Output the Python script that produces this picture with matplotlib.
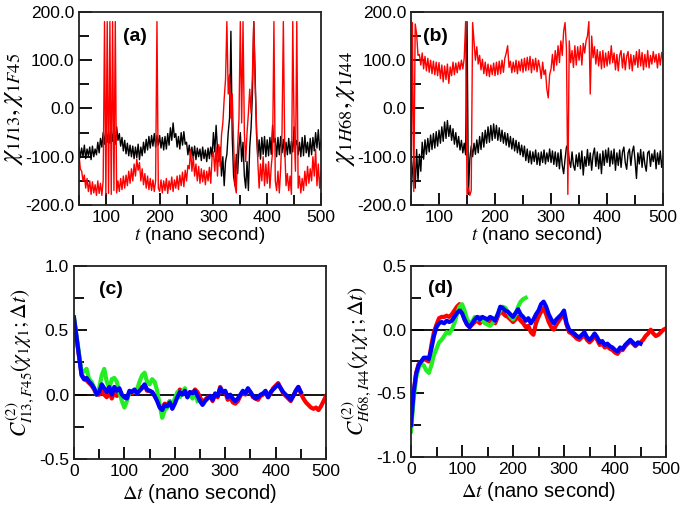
import numpy as np
import matplotlib
matplotlib.use("Agg")
import matplotlib.pyplot as plt
from matplotlib.ticker import MultipleLocator, FormatStrFormatter

plt.rcParams['font.family'] = ['Liberation Sans', 'DejaVu Sans']
plt.rcParams['mathtext.fontset'] = 'stix'

# ---- panel (a): chi_1 of I13 (black) and F45 (red), sampled every 2.5 ns from 50 to 500
a_black = [
    -78, -102, -82, -100, -76, -104, -84, -98, -80, -106, -78, -100, -84, -96, -70, -92, -62, -80, -50, -74,
    -42, -70, -48, -72, -40, -68, -46, -74, -38, -66, -52, -78, -60, -88, -66, -94, -72, -98, -76, -100,
    -78, -104, -80, -102, -74, -106, -80, -98, -70, -92, -64, -86, -58, -82, -56, -78, -52, -80, -56, -76,
    -56, -82, -60, -86, -58, -84, -52, -76, -40, -66, -30, -60, -52, -80, -58, -84, -50, -76, -48, -74,
    -70, -96, -76, -100, -80, -104, -78, -106, -82, -100, -84, -108, -80, -104, -86, -110, -82, -104, -80, -100,
    -50, -90, -35, -85, -110, -80, -140, -100, -160, -110, -95, -50, -20, 160, -60, -140, -160, -95, -135, -80,
    -50, -110, -70, -140, -165, -110, -170, -80, -40, 30, 180, 70, -50, -100, -65, -105, -60, -95, -58, -100,
    -65, -98, -60, -95, -35, -70, -62, -100, -60, -96, -58, -92, -64, -100, -70, -96, -62, -94, -68, -90,
    -38, -76, -66, -96, -70, -100, -60, -98, -56, -92, -70, -100, -62, -96, -60, -88, -50, -82, -44, -86,
    -66,
]
a_red = [
    -95, -125, -130, -150, -138, -165, -145, -172, -150, -178, -152, -175, -158, -180, -150, -176, -155, -180, -150, 180,
    -178, 180, -176, 180, -178, 180, -170, 180, -175, -150, -172, -145, -168, -140, -165, -138, -160, -130, -155, -125,
    -150, -115, -140, -105, -128, -112, -150, -125, -158, -135, -165, -140, -168, -145, -170, -148, -172, -150, 180, -165,
    -172, -148, -175, -150, -170, -145, -176, -150, -168, -142, -172, -148, -165, -140, -168, -138, -160, -132, -162, -128,
    -150, -118, -125, -85, -130, -100, -140, -115, -150, -120, -155, -125, -152, -128, -158, -130, -150, -122, -155, -100,
    -90, -130, -80, -140, -75, -120, -55, -30, 20, 60, 180, 30, 70, -20, 30, -70, -160, -175, -80, -20,
    180, -30, 180, -50, -110, -50, -10, 40, -10, 70, 180, 50, -30, -110, -165, -115, -150, -100, -160, -115,
    -155, -110, -165, -120, -90, 180, -150, -170, -130, -175, -125, -50, 180, -80, -160, -135, -170, -140, -178, 180,
    -40, -130, 180, -165, -140, -175, -145, -170, -130, -160, -120, -155, -125, -150, -100, -140, -85, -160, -115, -165,
    -130,
]

# ---- panel (b): chi_1 of H68 (black) and I44 (red)
b_black = [
    -178, -130, -100, -165, -85, -150, -95, -130, -70, -105, -65, -95, -62, -90, -55, -85, -52, -82, -48, -78,
    -45, -72, -38, -68, -28, -62, -25, -58, -35, -66, -42, -74, -50, -80, -58, -86, -66, -92, -72, -96,
    180, -178, -105, -78, -100, -72, -95, -65, -92, -58, -85, -50, -80, -45, -72, -38, -70, -35, -66, -32,
    -62, -35, -66, -40, -68, -45, -72, -50, -76, -52, -80, -58, -84, -62, -88, -66, -92, -70, -96, -76,
    -100, -78, -108, -84, -112, -88, -115, -90, -110, -86, -116, -92, -118, -90, -112, -86, -115, -92, -110, -84,
    -112, -88, -116, -90, -120, -92, -125, -85, -118, -135, -105, -80, -75, -108, -122, -90, -118, -128, -96, -120,
    -92, -125, -88, -138, -100, -120, -85, -118, -92, -128, -96, -82, -120, -90, -125, -94, -135, -88, -118, -86,
    -112, -82, -120, -88, -115, -84, -128, -92, -118, -86, -122, -90, -80, -112, -126, -92, -84, -118, -90, -78,
    -108, -145, -92, -115, -85, -122, -90, -116, -130, -92, -88, -120, -94, -110, -86, -125, -92, -116, -88, -122,
    -98,
]
b_red = [
    -178, 178, -172, 175, 155, 110, 112, 90, 115, 82, 108, 78, 104, 75, 100, 72, 98, 70, 96, 68,
    95, 62, 90, 55, 88, 60, 92, 52, 86, 68, 96, 70, 94, 74, 96, 80, 100, 82, 104, 180,
    -178, -165, -180, -170, 178, 140, 100, 128, 92, 110, 80, 102, 72, 96, 68, 92, 66, 90, 70, 94,
    68, 96, 70, 98, 72, 100, 75, 104, 115, 130, 85, 98, 74, 96, 76, 100, 72, 98, 78, 102,
    75, 104, 78, 106, 80, 108, 74, 102, 80, 104, 76, 100, 86, 62, 96, 70, 80, 40, 22, 70,
    82, 112, 78, 120, 90, 130, 95, 140, 110, 160, 178, 125, -178, 140, 95, 120, 85, 130, 90, 128,
    100, 130, 90, 135, 115, 140, 150, 180, 30, 150, 105, 128, 92, 122, 88, 118, 82, 120, 85, 115,
    88, 118, 92, 130, 95, 115, 80, 112, 78, 110, 120, 84, 114, 80, 108, 118, 82, 112, 78, 110,
    90, 118, 85, 122, 88, 116, 80, 112, 86, 120, 84, 110, 92, 118, 96, 112, 84, 114, 90, 116,
    98,
]

# ---- panel (c): C2 I13,F45, sampled every 5 ns from 0
c_red = [
    0.58, 0.44, 0.30, 0.16, 0.12, 0.11, 0.09, 0.07, 0.04, 0.00,
    0.00, 0.04, 0.00, -0.02, 0.02, -0.03, 0.02, -0.01, 0.01, -0.02,
    -0.02, -0.03, 0.02, 0.01, 0.03, 0.01, 0.05, 0.06, 0.07, 0.03,
    0.03, 0.02, -0.01, -0.04, -0.09, -0.10, -0.07, -0.08, -0.05, -0.09,
    -0.06, 0.00, 0.04, 0.01, 0.03, -0.02, 0.02, 0.01, 0.04, 0.02,
    -0.02, -0.06, -0.04, -0.02, -0.01, -0.05, 0.00, -0.02, 0.06, 0.02,
    0.02, -0.04, -0.02, -0.06, -0.07, -0.05, -0.01, 0.02, 0.00, 0.04,
    0.02, -0.02, -0.03, -0.04, -0.01, 0.00, 0.02, -0.02, 0.01, 0.05,
    0.07, 0.09, 0.05, 0.01, -0.01, -0.03, -0.05, -0.01, 0.03, 0.06,
    0.01, -0.03, -0.06, -0.08, -0.10, -0.11, -0.10, -0.12, -0.09, -0.05,
    -0.01,
]
c_green = [
    0.60, 0.46, 0.32, 0.17, 0.18, 0.20, 0.12, 0.10, 0.05, 0.00,
    0.05, 0.15, 0.20, 0.10, 0.05, 0.12, 0.13, 0.10, 0.02, -0.05,
    -0.10, -0.05, 0.02, 0.03, 0.02, 0.04, 0.10, 0.15, 0.17, 0.10,
    0.08, 0.12, 0.10, 0.03, -0.08, -0.18, -0.12, -0.10, -0.05, -0.08,
    -0.03, 0.02, -0.02, 0.02, 0.05, -0.02, 0.01, -0.03, 0.02, -0.05,
]
c_blue = [
    0.60, 0.45, 0.30, 0.15, 0.12, 0.13, 0.10, 0.08, 0.05, 0.00,
    0.02, 0.08, 0.05, 0.02, 0.06, 0.00, 0.06, 0.03, 0.05, 0.00,
    -0.02, -0.03, 0.03, 0.02, 0.04, 0.01, 0.03, 0.05, 0.08, 0.04,
    0.03, 0.02, -0.01, -0.05, -0.10, -0.12, -0.08, -0.09, -0.06, -0.11,
    -0.07, -0.02, 0.02, 0.00, 0.03, -0.02, 0.02, 0.01, 0.03, -0.01,
    -0.05, -0.08, -0.05, -0.03, -0.01, -0.04, 0.01, -0.01, 0.05, 0.02,
    0.03, -0.02, 0.00, -0.03, -0.05, -0.03, 0.00, 0.03, 0.01, 0.05,
    0.02, -0.01, -0.03, -0.02, 0.00, 0.01, 0.03, -0.02, 0.02, 0.04,
    0.06, 0.08, 0.05, 0.02, 0.00, -0.02, -0.04, -0.01, 0.03, 0.06,
    0.02,
]

# ---- panel (d): C2 H68,I44
d_red = [
    -0.75, -0.50, -0.34, -0.27, -0.25, -0.23, -0.24, -0.25, -0.12, -0.02,
    0.04, 0.09, 0.10, 0.10, 0.11, 0.10, 0.12, 0.15, 0.18, 0.20,
    0.14, 0.08, 0.04, 0.02, 0.04, 0.06, 0.07, 0.05, 0.07, 0.06,
    0.05, 0.07, 0.06, 0.05, 0.10, 0.15, 0.13, 0.11, 0.10, 0.08,
    0.06, 0.08, 0.10, 0.07, 0.05, 0.02, 0.03, -0.02, -0.04, 0.05,
    0.10, 0.14, 0.17, 0.12, 0.06, 0.02, 0.00, 0.04, 0.07, 0.10,
    0.12, 0.04, -0.02, -0.03, -0.05, -0.07, -0.08, -0.06, -0.04, -0.08,
    -0.10, -0.08, -0.05, -0.08, -0.12, -0.11, -0.14, -0.13, -0.15, -0.16,
    -0.18, -0.19, -0.16, -0.16, -0.13, -0.11, -0.09, -0.11, -0.13, -0.11,
    -0.10, -0.08, -0.05, -0.03, 0.00, -0.03, -0.05, -0.04, -0.02, 0.00,
    0.01,
]
d_green = [
    -0.80, -0.55, -0.38, -0.30, -0.27, -0.28, -0.32, -0.34, -0.28, -0.20,
    -0.15, -0.10, -0.08, -0.05, -0.02, -0.03, 0.00, 0.05, 0.12, 0.18,
    0.20, 0.15, 0.08, 0.05, 0.06, 0.10, 0.08, 0.10, 0.07, 0.05,
    0.04, 0.03, 0.05, 0.08, 0.12, 0.15, 0.18, 0.17, 0.14, 0.10,
    0.08, 0.12, 0.18, 0.22, 0.24, 0.25,
]
d_blue = [
    -0.75, -0.50, -0.35, -0.28, -0.25, -0.22, -0.22, -0.23, -0.15, -0.05,
    0.02, 0.05, 0.06, 0.05, 0.07, 0.06, 0.07, 0.10, 0.13, 0.15,
    0.13, 0.08, 0.04, 0.02, 0.05, 0.08, 0.10, 0.08, 0.10, 0.09,
    0.08, 0.10, 0.09, 0.07, 0.12, 0.18, 0.17, 0.15, 0.14, 0.12,
    0.10, 0.13, 0.16, 0.12, 0.10, 0.07, 0.09, 0.05, 0.08, 0.12,
    0.15, 0.20, 0.22, 0.18, 0.12, 0.08, 0.05, 0.08, 0.10, 0.12,
    0.15, 0.05, 0.00, -0.02, -0.03, -0.05, -0.06, -0.04, -0.02, -0.06,
    -0.08, -0.06, -0.03, -0.06, -0.10, -0.09, -0.12, -0.11, -0.13, -0.14,
    -0.16, -0.17, -0.14, -0.15, -0.12, -0.10, -0.08, -0.10, -0.12, -0.10,
    -0.11,
]


def t_axis(vals, start, step):
    return start + step * np.arange(len(vals))


def style_axis(ax, xmajor, ymajor, yfmt):
    ax.xaxis.set_major_locator(MultipleLocator(xmajor))
    ax.xaxis.set_minor_locator(MultipleLocator(xmajor / 2))
    ax.yaxis.set_major_locator(MultipleLocator(ymajor))
    ax.yaxis.set_minor_locator(MultipleLocator(ymajor / 2))
    ax.yaxis.set_major_formatter(FormatStrFormatter(yfmt))
    ax.tick_params(which='both', direction='in', top=False, right=False,
                   labelsize=12.5, width=1.3)
    ax.tick_params(which='major', length=9)
    ax.tick_params(which='minor', length=7)
    for sp in ax.spines.values():
        sp.set_linewidth(1.3)
        sp.set_color('#222222')


fig = plt.figure(figsize=(6.85, 5.19), dpi=100)
ax_a = fig.add_axes([0.1153, 0.605, 0.3533, 0.372])
ax_b = fig.add_axes([0.600, 0.605, 0.368, 0.372])
ax_c = fig.add_axes([0.108, 0.1156, 0.368, 0.372])
ax_d = fig.add_axes([0.600, 0.1195, 0.3723, 0.368])

# (a)
ax_a.plot(t_axis(a_black, 50, 2.5), a_black, color='black', lw=1.0)
ax_a.plot(t_axis(a_red, 50, 2.5), a_red, color='#ff0000', lw=1.0)
ax_a.set_xlim(50, 500)
ax_a.set_ylim(-200, 200)
style_axis(ax_a, 100, 100, '%.1f')
ax_a.set_xlabel(r'$t$ (nano second)', fontsize=13.5, labelpad=0)
ax_a.set_ylabel(r'$\chi_{1I13},\chi_{1F45}$', fontsize=19, labelpad=0)
ax_a.text(0.18, 0.875, '(a)', transform=ax_a.transAxes, fontsize=14,
          fontweight='bold', va='center')

# (b)
ax_b.plot(t_axis(b_black, 50, 2.5), b_black, color='black', lw=1.0)
ax_b.plot(t_axis(b_red, 50, 2.5), b_red, color='#ff0000', lw=1.0)
ax_b.set_xlim(50, 500)
ax_b.set_ylim(-200, 200)
style_axis(ax_b, 100, 100, '%.1f')
ax_b.set_xlabel(r'$t$ (nano second)', fontsize=13.5, labelpad=0)
ax_b.set_ylabel(r'$\chi_{1H68},\chi_{1I44}$', fontsize=19, labelpad=0)
ax_b.text(0.048, 0.875, '(b)', transform=ax_b.transAxes, fontsize=14,
          fontweight='bold', va='center')

# (c)
ax_c.axhline(0, color='black', lw=1.3, zorder=1)
ax_c.plot(t_axis(c_red, 0, 5), c_red, color='#ff0000', lw=3)
ax_c.plot(t_axis(c_green, 0, 5), c_green, color='#22ee22', lw=3)
ax_c.plot(t_axis(c_blue, 0, 5), c_blue, color='#0000ff', lw=3)
ax_c.set_xlim(0, 500)
ax_c.set_ylim(-0.5, 1.0)
style_axis(ax_c, 100, 0.5, '%.1f')
ax_c.set_xlabel(r'$\Delta t$ (nano second)', fontsize=14.5, labelpad=2)
ax_c.set_ylabel(r'$C^{(2)}_{I13,F45}(\chi_1\chi_1;\Delta t)$', fontsize=15.5, labelpad=2)
ax_c.text(0.10, 0.876, '(c)', transform=ax_c.transAxes, fontsize=14,
          fontweight='bold', va='center')

# (d)
ax_d.axhline(0, color='black', lw=1.3, zorder=1)
ax_d.plot(t_axis(d_red, 0, 5), d_red, color='#ff0000', lw=3)
ax_d.plot(t_axis(d_green, 0, 5), d_green, color='#22ee22', lw=3)
ax_d.plot(t_axis(d_blue, 0, 5), d_blue, color='#0000ff', lw=3)
ax_d.set_xlim(0, 500)
ax_d.set_ylim(-1.0, 0.5)
style_axis(ax_d, 100, 0.5, '%.1f')
ax_d.set_xlabel(r'$\Delta t$ (nano second)', fontsize=14.5, labelpad=2)
ax_d.set_ylabel(r'$C^{(2)}_{H68,I44}(\chi_1\chi_1;\Delta t)$', fontsize=15.5, labelpad=2)
ax_d.text(0.067, 0.88, '(d)', transform=ax_d.transAxes, fontsize=14,
          fontweight='bold', va='center')

fig.savefig('out.png', dpi=100)
